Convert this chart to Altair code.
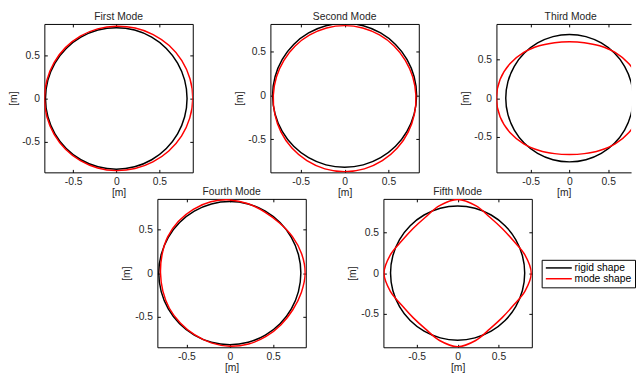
import math
import altair as alt
import pandas as pd

# ---------------- data ----------------
TITLES = ["First Mode", "Second Mode", "Third Mode", "Fourth Mode", "Fifth Mode"]
SERIES = ["rigid shape", "mode shape"]
COLORS = ["#000000", "#ff0000"]
AXIS_TITLE = "[m]"
TICK_VALUES = [-0.5, 0, 0.5]

ANGLES_DEG = [0, 15, 30, 45, 60, 75, 90, 105, 120, 135, 150, 165,
              180, 195, 210, 225, 240, 255, 270, 285, 300, 315, 330, 345]
RIGID_RADIUS = 0.82

MODE1_R = [0.886, 0.884, 0.877, 0.867, 0.855, 0.844, 0.837, 0.834, 0.833, 0.833, 0.832, 0.831,
           0.831, 0.831, 0.831, 0.831, 0.832, 0.834, 0.836, 0.840, 0.848, 0.860, 0.872, 0.881]
MODE2_R = [0.812, 0.804, 0.798, 0.796, 0.794, 0.794, 0.794, 0.794, 0.794, 0.796, 0.798, 0.804,
           0.812, 0.823, 0.836, 0.849, 0.859, 0.867, 0.869, 0.867, 0.859, 0.849, 0.836, 0.823]
MODE3_R = [0.940, 0.925, 0.885, 0.832, 0.778, 0.739, 0.725, 0.739, 0.778, 0.832, 0.885, 0.925,
           0.940, 0.925, 0.885, 0.832, 0.778, 0.739, 0.725, 0.739, 0.778, 0.832, 0.885, 0.925]
MODE4_R = [0.870, 0.858, 0.835, 0.812, 0.808, 0.822, 0.838, 0.845, 0.843, 0.838, 0.828, 0.810,
           0.800, 0.800, 0.806, 0.808, 0.815, 0.828, 0.838, 0.840, 0.838, 0.836, 0.840, 0.855]
MODE5_R = [0.900, 0.853, 0.788, 0.770, 0.788, 0.853, 0.900, 0.853, 0.788, 0.770, 0.788, 0.853,
           0.900, 0.853, 0.788, 0.770, 0.788, 0.853, 0.900, 0.853, 0.788, 0.770, 0.788, 0.853]
MODES_R = [MODE1_R, MODE2_R, MODE3_R, MODE4_R, MODE5_R]

X_DOMAINS = [[-0.833, 0.886], [-0.845, 0.845], [-0.94, 0.794], [-0.836, 0.877], [-0.907, 0.907]]
Y_DOMAINS = [[-0.856, 0.863], [-0.877, 0.813], [-0.955, 0.955], [-0.85, 0.85], [-0.907, 0.907]]

FONT = "Liberation Sans"
FS = 10.5
TXT = "#262626"
H = 151


def make_df(k):
    rows = []
    for s, radii in ((SERIES[0], [RIGID_RADIUS] * len(ANGLES_DEG)), (SERIES[1], MODES_R[k])):
        for i, (a, r) in enumerate(zip(ANGLES_DEG, radii)):
            t = math.radians(a)
            rows.append({"series": s, "idx": i, "x": r * math.cos(t), "y": r * math.sin(t)})
    return pd.DataFrame(rows)


LABEL_EXPR = "replace(format(datum.value, '~g'), '\u2212', '-')"


def panel(k, width, legend=None, clip_right=False, title_dx=0):
    df = make_df(k)
    xs = alt.Scale(domain=X_DOMAINS[k], nice=False, zero=False)
    ys = alt.Scale(domain=Y_DOMAINS[k], nice=False, zero=False)
    base = alt.Chart(df)
    color = alt.Color("series:N", scale=alt.Scale(domain=SERIES, range=COLORS),
                      sort=SERIES, legend=legend)
    main = base.mark_line(interpolate="cardinal-closed", strokeWidth=1.5, clip=True).encode(
        x=alt.X("x:Q", scale=xs, axis=alt.Axis(
            orient="bottom", values=TICK_VALUES, ticks=False, domain=clip_right,
            domainColor="black", grid=False, labelExpr=LABEL_EXPR, title=AXIS_TITLE,
            labelPadding=4, titlePadding=1)),
        y=alt.Y("y:Q", scale=ys, axis=alt.Axis(
            orient="left", values=TICK_VALUES, ticks=False, domain=clip_right,
            domainColor="black", grid=False, labelExpr=LABEL_EXPR, title=AXIS_TITLE,
            labelPadding=5, titlePadding=3)),
        color=color,
        order=alt.Order("idx:Q"),
    )
    tick_kw = dict(values=TICK_VALUES, labels=False, grid=False, ticks=True,
                   tickSize=3, tickColor="black", title="")
    inner1 = base.mark_point(opacity=0, clip=True).encode(
        x=alt.X("x:Q", scale=xs, axis=alt.Axis(orient="top", offset=-H, domain=False, **tick_kw)),
        y=alt.Y("y:Q", scale=ys, axis=alt.Axis(orient="right", offset=-width, domain=False, **tick_kw)),
    )
    if clip_right:
        yaxis3 = None
    else:
        yaxis3 = alt.Axis(orient="left", offset=-width, domain=False, **tick_kw)
    inner2 = base.mark_point(opacity=0, clip=True).encode(
        x=alt.X("x:Q", scale=xs, axis=alt.Axis(orient="bottom", offset=-H, domain=clip_right,
                                               domainColor="black", **tick_kw)),
        y=alt.Y("y:Q", scale=ys, axis=yaxis3),
    )
    ch = alt.layer(main, inner1, inner2).resolve_axis(x="independent", y="independent").properties(
        width=width, height=H,
        title=alt.TitleParams(TITLES[k], fontSize=FS, fontWeight="normal", font=FONT,
                              color=TXT, offset=1, dx=title_dx),
    )
    if clip_right:
        ch = ch.properties(view=alt.ViewBackground(strokeOpacity=0))
    return ch


leg = alt.Legend(orient="none", legendX=161, legendY=62, title=None,
                 strokeColor="black", padding=3, labelFontSize=FS, labelFont=FONT,
                 labelColor="black", labelOffset=20, symbolType="M-1,0H5.6", symbolSize=64,
                 symbolStrokeWidth=1.5, rowPadding=0, fillColor="white")

p1 = panel(0, 151)
p2 = panel(1, 151)
p3 = panel(2, 137, clip_right=True, title_dx=7)
p4 = panel(3, 151)
p5 = panel(4, 151, legend=leg)

spacer = alt.Chart(pd.DataFrame({"v": [0]})).mark_point(opacity=0).encode(
    x=alt.X("v:Q", axis=None), y=alt.Y("v:Q", axis=None)
).properties(width=36, height=H, view=alt.ViewBackground(strokeOpacity=0))

top = alt.hconcat(p1, p2, p3, spacing=79, bounds="flush").resolve_scale(color="independent")
bottom = alt.hconcat(spacer, p4, p5, spacing=79, bounds="flush").resolve_scale(color="independent")

chart = alt.vconcat(top, bottom, spacing=-14).resolve_scale(
    color="independent"
).properties(
    padding={"left": 0, "top": 0, "right": 0, "bottom": 0}
).configure_view(
    stroke="black", strokeWidth=1
).configure_axis(
    labelFont=FONT, labelFontSize=FS, labelColor=TXT,
    titleFont=FONT, titleFontSize=FS, titleFontWeight="normal", titleColor=TXT,
)

chart.save("out.html", embed_options={"renderer": "svg", "actions": False})
